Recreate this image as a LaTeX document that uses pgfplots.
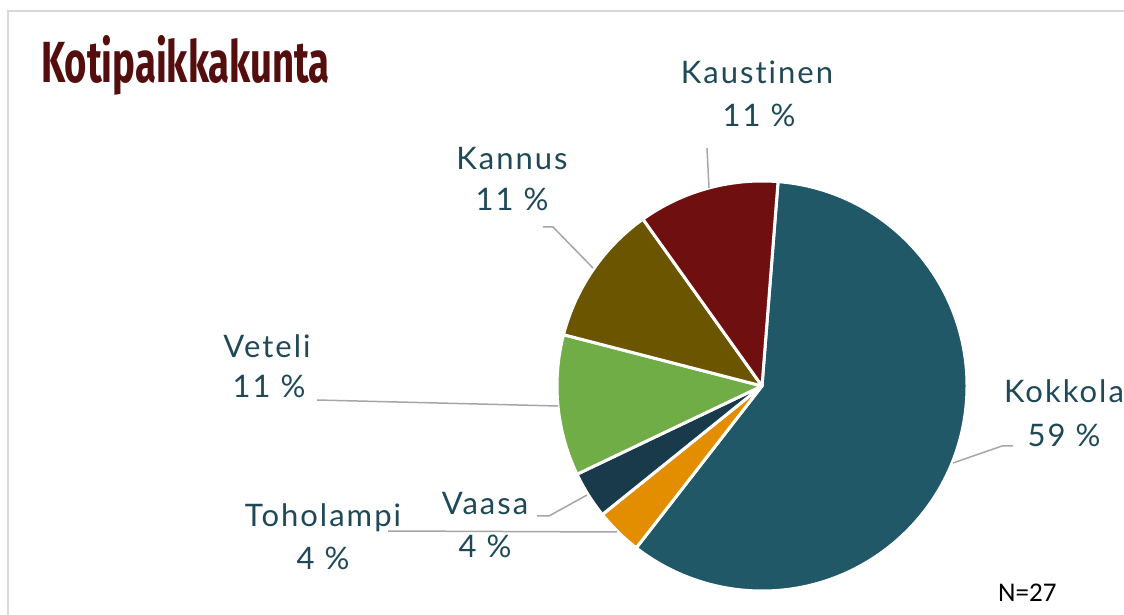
\documentclass[border=0pt]{standalone}
\usepackage{pgfplots}
\pgfplotsset{compat=1.18}
\usepackage{pgfplotstable}
\usepackage{fontspec}
\setmainfont{Lato}[Ligatures=NoCommon, LetterSpace=6.5]
\newfontfamily\titlefont{Fira Sans}
\newfontfamily\nfont{Carlito}
\definecolor{ckok}{RGB}{33,88,104}
\definecolor{ctoh}{RGB}{226,142,0}
\definecolor{cvaa}{RGB}{24,58,74}
\definecolor{cvet}{RGB}{112,173,71}
\definecolor{ckan}{RGB}{108,85,0}
\definecolor{ckau}{RGB}{112,15,15}
\definecolor{txt}{RGB}{31,73,88}
\definecolor{ttl}{RGB}{84,14,14}
\definecolor{lead}{RGB}{166,166,166}
\definecolor{frame}{RGB}{217,217,217}

\pgfplotstableread{
name value col
Kokkola 16 ckok
Toholampi 1 ctoh
Vaasa 1 cvaa
Veteli 3 cvet
Kannus 3 ckan
Kaustinen 3 ckau
}\piedata

\begin{document}
\begin{tikzpicture}
\begin{axis}[
  at={(0,0)}, anchor=origin,
  scale only axis, width=1124pt, height=615pt,
  xmin=0, xmax=1124, ymin=0, ymax=615,
  hide axis, clip=false,
]
\addplot[draw=none, forget plot] coordinates {(0,0) (1124,615)};
% frame
\draw[frame, line width=2pt] (axis cs:8,-20) -- (axis cs:8,604) -- (axis cs:1140,604);
% pie
\pgfplotstablegetrowsof{\piedata}
\pgfmathtruncatemacro\nrows{\pgfplotsretval-1}
\def\startang{85.5}
\pgfplotsforeachungrouped \i in {0,...,\nrows}{%
  \pgfplotstablegetelem{\i}{value}\of\piedata \let\val\pgfplotsretval
  \pgfplotstablegetelem{\i}{col}\of\piedata \let\col\pgfplotsretval
  \pgfmathsetmacro\endang{\startang - \val/27*360}%
  \edef\temp{\noexpand\filldraw[fill=\col, draw=white, line width=3pt, line join=round]
    (axis cs:762,229) -- ++(\startang:205pt) arc[start angle=\startang, end angle=\endang, radius=205pt] -- cycle;}%
  \temp
  \global\let\startang\endang
}
% leader lines
\begin{scope}[lead, line width=1.5pt]
\draw (axis cs:707,467) -- (axis cs:709,427);
\draw (axis cs:543,388) -- (axis cs:553,388) -- (axis cs:593,347);
\draw (axis cs:317,215) -- (axis cs:558,209);
\draw (axis cs:388,84) -- (axis cs:617,83);
\draw (axis cs:537,99) -- (axis cs:549,99) -- (axis cs:587,120);
\draw (axis cs:953,152) -- (axis cs:1002,169) -- (axis cs:1013,169);
\end{scope}
% labels
\begin{scope}[every node/.style={text=txt, font=\fontsize{31}{31}\selectfont, anchor=base, inner sep=0pt}]
\node at (axis cs:757,531) {Kaustinen};
\node at (axis cs:759,488) {11 \%};
\node at (axis cs:512,445) {Kannus};
\node at (axis cs:512,404) {11 \%};
\node at (axis cs:267,257) {Veteli};
\node at (axis cs:269,217) {11 \%};
\node at (axis cs:323,88) {Toholampi};
\node at (axis cs:323,45) {4 \%};
\node at (axis cs:485,100) {Vaasa};
\node at (axis cs:485,57) {4 \%};
\node at (axis cs:1064,212) {Kokkola};
\node at (axis cs:1064,168) {59 \%};
\end{scope}
\node[anchor=base west, inner sep=0pt, text=ttl] at (axis cs:41,532) {\scalebox{0.66}[1]{\titlefont\bfseries\fontsize{58}{58}\selectfont Kotipaikkakunta}};
\node[anchor=base west, inner sep=0pt, text=black] at (axis cs:998,13) {\nfont\fontsize{27}{27}\selectfont N=27};
\end{axis}
\pgfresetboundingbox
\useasboundingbox (0,0) rectangle (1124pt,615pt);
\end{tikzpicture}
\end{document}
